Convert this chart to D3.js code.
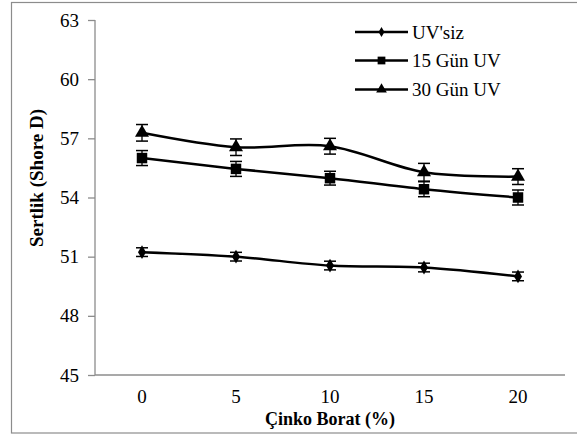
<!DOCTYPE html>
<html>
<head>
<meta charset="utf-8">
<script src="https://cdn.jsdelivr.net/npm/d3@7"></script>
<style>
  body { margin: 0; background: #fff; }
  svg text { font-family: "Liberation Serif", "Times New Roman", Times, Tinos, "DejaVu Serif", "Noto Serif", FreeSerif, serif; }
</style>
</head>
<body>
<svg id="chart" width="577" height="436"></svg>
<script>
const categories = ["0", "5", "10", "15", "20"];
const seriesNames = ["UV'siz", "15 Gün UV", "30 Gün UV"];
const uvsiz = [51.23, 51.0, 50.55, 50.45, 50.0];
const gun15 = [56.0, 55.45, 54.98, 54.42, 54.0];
const gun30 = [57.28, 56.55, 56.6, 55.28, 55.06];
const errUvsiz = [0.22, 0.22, 0.22, 0.22, 0.22];
const err15 = [0.38, 0.38, 0.35, 0.38, 0.38];
const err30 = [0.42, 0.42, 0.4, 0.45, 0.4];
const yTicks = [45, 48, 51, 54, 57, 60, 63];
const xTitle = "Çinko Borat (%)";
const yTitle = "Sertlik (Shore D)";

const svg = d3.select("#chart");
const m = { left: 95, right: 565, top: 20, bottom: 375 };

// outer border
svg.append("rect").attr("x", 11.5).attr("y", 2.5).attr("width", 570).attr("height", 430.5)
  .attr("fill", "none").attr("stroke", "#8c8c8c").attr("stroke-width", 1.2);

const x = d3.scaleBand().domain(categories).range([m.left, m.right]);
const y = d3.scaleLinear().domain([45, 63]).range([m.bottom, m.top]);

// y axis
const yAxis = svg.append("g").attr("transform", `translate(${m.left},0)`)
  .call(d3.axisLeft(y).tickValues(yTicks).tickSize(7).tickPadding(9));
yAxis.attr("font-family", null);
yAxis.selectAll("path, line").attr("stroke", "#8c8c8c").attr("stroke-width", 1.3);
yAxis.select(".domain").attr("d", `M0,${m.top}V${m.bottom}`);
yAxis.selectAll("text").attr("font-size", 19).attr("fill", "#000");

// x axis
const xAxis = svg.append("g").attr("transform", `translate(0,${m.bottom})`)
  .call(d3.axisBottom(x).tickSize(0).tickPadding(15));
xAxis.attr("font-family", null);
xAxis.selectAll("path, line").attr("stroke", "#8c8c8c").attr("stroke-width", 1.3);
xAxis.select(".domain").attr("d", `M${m.left},0H${m.right}`);
xAxis.selectAll("text").attr("font-size", 19).attr("fill", "#000");

// titles
svg.append("text").attr("x", 330).attr("y", 425).attr("text-anchor", "middle")
  .attr("font-size", 18).attr("font-weight", "bold").text(xTitle);
svg.append("text").attr("transform", "translate(43,178) rotate(-90)").attr("text-anchor", "middle")
  .attr("font-size", 19).attr("font-weight", "bold").text(yTitle);

const series = [
  { name: seriesNames[0], vals: uvsiz, err: errUvsiz, sym: d3.symbolDiamond, size: 55, lsize: 30 },
  { name: seriesNames[1], vals: gun15, err: err15, sym: d3.symbolSquare, size: 110, lsize: 60 },
  { name: seriesNames[2], vals: gun30, err: err30, sym: d3.symbolTriangle, size: 85, lsize: 50 }
];

const cx = c => x(c) + x.bandwidth() / 2;
const line = d3.line().x((d, i) => cx(categories[i])).y(d => y(d)).curve(d3.curveCatmullRom.alpha(0));

series.forEach(s => {
  const g = svg.append("g");
  s.vals.forEach((v, i) => {
    const px = cx(categories[i]);
    const y1 = y(v + s.err[i]), y2 = y(v - s.err[i]);
    g.append("line").attr("x1", px).attr("x2", px).attr("y1", y1).attr("y2", y2)
      .attr("stroke", "#000").attr("stroke-width", 1.3);
    [y1, y2].forEach(yy => g.append("line").attr("x1", px - 6).attr("x2", px + 6)
      .attr("y1", yy).attr("y2", yy).attr("stroke", "#000").attr("stroke-width", 1.5));
  });
  g.append("path").attr("d", line(s.vals)).attr("fill", "none").attr("stroke", "#000").attr("stroke-width", 2.5);
  s.vals.forEach((v, i) => {
    g.append("path").attr("d", d3.symbol().type(s.sym).size(s.size)())
      .attr("transform", `translate(${cx(categories[i])},${y(v)})`).attr("fill", "#000");
  });
});

// legend
const legY = [32, 60.5, 89.5];
series.forEach((s, i) => {
  const g = svg.append("g").attr("transform", `translate(0,${legY[i]})`);
  g.append("line").attr("x1", 355).attr("x2", 408).attr("stroke", "#000").attr("stroke-width", 2.5);
  g.append("path").attr("d", d3.symbol().type(s.sym).size(s.lsize)()).attr("transform", "translate(381.5,0)").attr("fill", "#000");
  g.append("text").attr("x", 412).attr("y", 6.5).attr("font-size", 19).text(s.name);
});
</script>
</body>
</html>
